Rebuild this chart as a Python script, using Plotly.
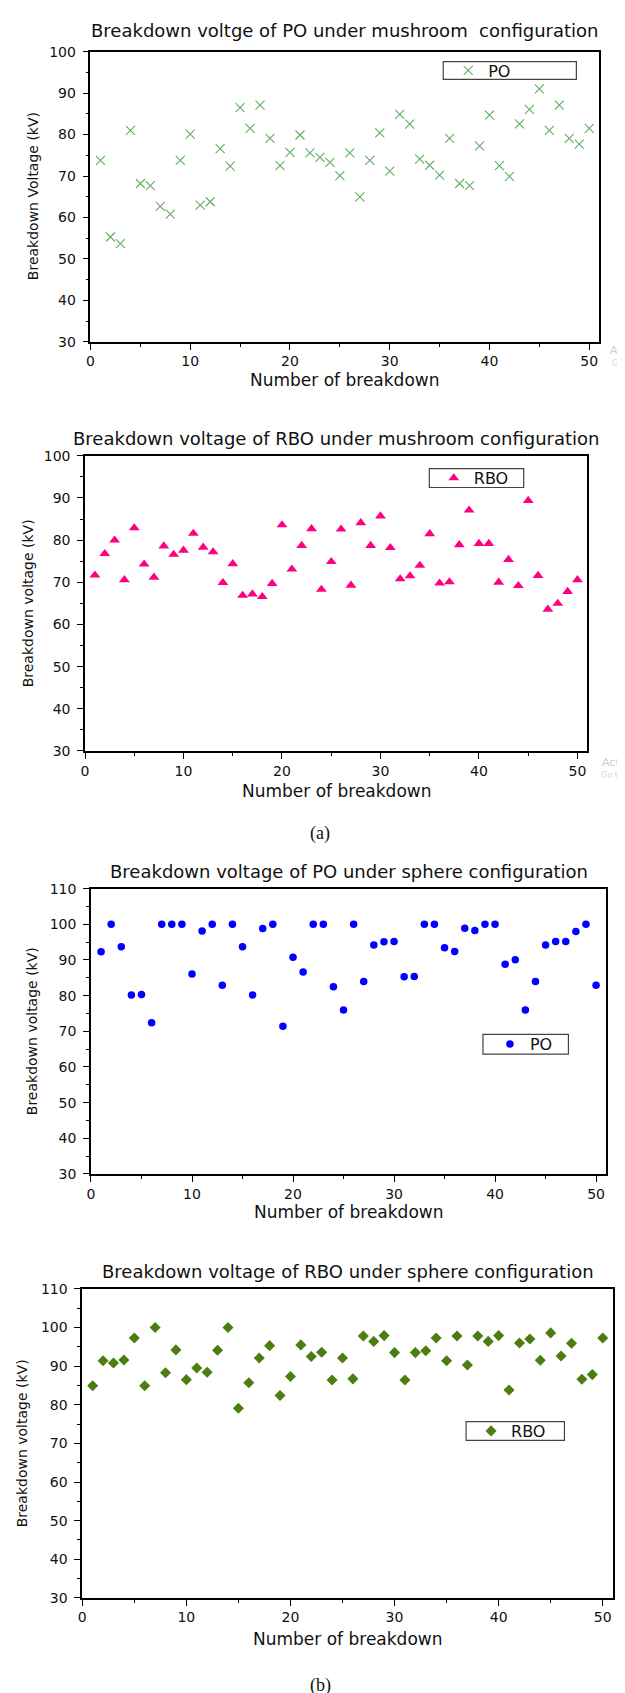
import plotly.graph_objects as go

# ---------------- data ----------------
breakdown_no = list(range(1, 51))

po_mushroom = [73.8, 55.3, 53.7, 81.0, 68.2, 67.7, 62.7, 60.8, 73.8, 80.1,
               63.0, 63.8, 76.6, 72.4, 86.5, 81.5, 87.1, 79.1, 72.5, 75.7,
               79.9, 75.6, 74.5, 73.3, 70.1, 75.6, 65.0, 73.8, 80.4, 71.2,
               84.9, 82.5, 74.1, 72.6, 70.2, 79.1, 68.2, 67.7, 77.3, 84.7,
               72.5, 69.9, 82.6, 86.1, 91.0, 81.0, 87.1, 79.1, 77.7, 81.5]

rbo_mushroom = [71.7, 76.8, 80.0, 70.6, 82.9, 74.3, 71.2, 78.6, 76.6, 77.6,
                81.6, 78.3, 77.2, 69.9, 74.4, 66.9, 67.2, 66.6, 69.7, 83.6,
                73.1, 78.7, 82.7, 68.3, 74.9, 82.6, 69.3, 84.1, 78.7, 85.7,
                78.2, 70.8, 71.5, 74.0, 81.5, 69.8, 70.1, 78.9, 87.1, 79.2,
                79.2, 70.0, 75.4, 69.2, 89.4, 71.6, 63.6, 65.0, 67.8, 70.6]

po_sphere = [92.3, 100.0, 93.7, 80.2, 80.3, 72.4, 100.0, 100.0, 100.0, 86.1,
             98.1, 100.0, 82.9, 100.0, 93.7, 80.2, 98.8, 100.0, 71.4, 90.8,
             86.6, 100.0, 100.0, 82.5, 76.0, 100.0, 84.0, 94.2, 95.1, 95.2,
             85.3, 85.4, 100.0, 100.0, 93.4, 92.4, 98.9, 98.3, 100.0, 100.0,
             88.8, 90.1, 76.0, 84.0, 94.2, 95.2, 95.2, 98.0, 100.0, 82.9]

rbo_sphere = [84.9, 91.4, 90.8, 91.6, 97.3, 84.9, 100.0, 88.3, 94.2, 86.5,
              89.5, 88.4, 94.1, 100.0, 79.1, 85.7, 92.1, 95.3, 82.4, 87.3,
              95.5, 92.5, 93.6, 86.4, 92.1, 86.7, 97.8, 96.4, 97.9, 93.5,
              86.4, 93.5, 94.0, 97.3, 91.4, 97.8, 90.3, 97.8, 96.4, 97.9,
              83.8, 96.0, 97.0, 91.5, 98.6, 92.6, 95.9, 86.6, 87.8, 97.3]

titles = ["Breakdown voltge of PO under mushroom  configuration",
          "Breakdown voltage of RBO under mushroom configuration",
          "Breakdown voltage of PO under sphere configuration",
          "Breakdown voltage of RBO under sphere configuration"]
y_titles = ["Breakdown Voltage (kV)", "Breakdown voltage (kV)",
            "Breakdown voltage (kV)", "Breakdown voltage (kV)"]
x_title = "Number of breakdown"
series_names = ["PO", "RBO", "PO", "RBO"]
y_ranges = [[30, 100], [30, 100], [30, 110], [30, 110]]
x_range = [0, 51]
captions = ["(a)", "(b)"]
# faint screen-capture watermark fragments visible at the right edge
watermarks = [("Ac", "Go"), ("Acti", "Go to"), ("A", "G")]

# ---------------- layout (pixels) ----------------
W, H = 625, 1693
SANS = "DejaVu Sans"

panels = [
    dict(left=79, right=591, top=36, bottom=329, title_xy=(335, 15),
         xlab_xy=(335, 367), ylab_xy=(21, 182),
         box=(434, 568, 46, 64), marker_x=459,
         marker=dict(symbol="x-thin", size=9, color="#62ad62",
                     line=dict(color="#62ad62", width=1.1))),
    dict(left=73.5, right=579, top=444, bottom=742, title_xy=(327, 427),
         xlab_xy=(327, 782), ylab_xy=(16, 593),
         box=(420, 515, 457, 476), marker_x=444.5,
         marker=dict(symbol="triangle-up", size=9.5, color="#ff0080")),
    dict(left=79.5, right=598, top=881, bottom=1169, title_xy=(339, 864),
         xlab_xy=(339, 1207), ylab_xy=(20, 1025),
         box=(474, 560, 1028, 1048), marker_x=501,
         marker=dict(symbol="circle", size=7.5, color="#0000ff")),
    dict(left=70.7, right=605, top=1285, bottom=1597, title_xy=(338, 1267),
         xlab_xy=(338, 1638), ylab_xy=(10, 1441),
         box=(457, 556, 1419, 1438), marker_x=482,
         marker=dict(symbol="diamond", size=8.5, color="#4b7d10")),
]
caption_xy = [(310, 825), (310, 1685)]
watermark_xy = [(617, 338, 351), (617, 754, 767), (619, 1181, 1194)]

series = [po_mushroom, rbo_mushroom, po_sphere, rbo_sphere]

fig = go.Figure()
layout = dict(width=W, height=H, margin=dict(l=0, r=0, t=0, b=0),
              paper_bgcolor="white", plot_bgcolor="white",
              showlegend=True, annotations=[], shapes=[])


def px(x):
    return x / W


def py(y):
    return 1 - y / H


for i, (p, vals) in enumerate(zip(panels, series)):
    n = i + 1
    sx = "" if n == 1 else str(n)
    leg = "legend" if n == 1 else f"legend{n}"
    fig.add_trace(go.Scatter(
        x=breakdown_no, y=vals, mode="markers", name=series_names[i],
        marker=p["marker"], xaxis=f"x{sx}", yaxis=f"y{sx}", legend=leg,
        showlegend=True))

    xd = [px(p["left"]), px(p["right"])]
    yd = [py(p["bottom"]), py(p["top"])]
    axis_common = dict(showline=True, linecolor="black", linewidth=1.5,
                       mirror=True, showgrid=False, zeroline=False,
                       ticks="outside", ticklen=6, tickwidth=1.3,
                       tickcolor="black", dtick=10, tick0=0,
                       tickfont=dict(family=SANS, size=14, color="#111"),
                       minor=dict(ticks="outside", ticklen=3, tickwidth=1.2,
                                  tickcolor="black", dtick=5, showgrid=False))
    layout[f"xaxis{sx}"] = dict(axis_common, domain=xd, range=x_range,
                                anchor=f"y{sx}", fixedrange=True)
    layout[f"yaxis{sx}"] = dict(axis_common, domain=yd, range=y_ranges[i],
                                anchor=f"x{sx}", ticklabelstandoff=4,
                                fixedrange=True)
    # inner tick frame on top and right (Origin style)
    tx = str(n + 4)
    inner = dict(showline=False, showgrid=False, zeroline=False,
                 showticklabels=False, ticks="inside", ticklen=6,
                 tickwidth=1.3, tickcolor="#333", dtick=2, tick0=0,
                 range=[0, 10], fixedrange=True,
                 minor=dict(ticks="inside", ticklen=3, tickwidth=1.2,
                            tickcolor="#333", dtick=1))
    layout[f"xaxis{tx}"] = dict(inner, overlaying=f"x{sx}", side="top",
                                anchor=f"y{sx}")
    layout[f"yaxis{tx}"] = dict(inner, overlaying=f"y{sx}", side="right",
                                anchor=f"x{sx}")

    # titles
    tx0, ty0 = p["title_xy"]
    layout["annotations"].append(dict(
        text=titles[i], x=px(tx0), y=py(ty0), xref="paper", yref="paper",
        showarrow=False, xanchor="center", yanchor="middle",
        font=dict(family=SANS, size=18, color="#111")))
    lx, ly = p["xlab_xy"]
    layout["annotations"].append(dict(
        text=x_title, x=px(lx), y=py(ly), xref="paper", yref="paper",
        showarrow=False, xanchor="center", yanchor="middle",
        font=dict(family=SANS, size=17, color="#111")))
    vx, vy = p["ylab_xy"]
    layout["annotations"].append(dict(
        text=y_titles[i], x=px(vx), y=py(vy), xref="paper", yref="paper",
        showarrow=False, xanchor="center", yanchor="middle", textangle=-90,
        font=dict(family=SANS, size=14, color="#111")))

    # legend
    bl, br, bt, bb = p["box"]
    layout["shapes"].append(dict(
        type="rect", xref="paper", yref="paper", x0=px(bl), x1=px(br),
        y0=py(bb), y1=py(bt), line=dict(color="#444", width=1.2),
        fillcolor="rgba(0,0,0,0)"))
    layout[leg] = dict(x=px(p["marker_x"] - 20), y=py((bt + bb) / 2),
                       xanchor="left", yanchor="middle",
                       bgcolor="rgba(0,0,0,0)", borderwidth=0,
                       font=dict(family=SANS, size=16, color="#111"),
                       itemsizing="trace")

for cap, (cx, cy) in zip(captions, caption_xy):
    layout["annotations"].append(dict(
        text=cap, x=px(cx), y=py(cy), xref="paper", yref="paper",
        showarrow=False, xanchor="center", yanchor="middle",
        font=dict(family="Liberation Serif", size=18, color="#111")))

for (w1, w2), (wx, wy1, wy2) in zip(watermarks, watermark_xy):
    layout["annotations"].append(dict(
        text=w1, x=px(wx), y=py(wy1), xref="paper", yref="paper",
        showarrow=False, xanchor="right", yanchor="middle",
        font=dict(family=SANS, size=11, color="#cfcfcf")))
    layout["annotations"].append(dict(
        text=w2, x=px(wx), y=py(wy2), xref="paper", yref="paper",
        showarrow=False, xanchor="right", yanchor="middle",
        font=dict(family=SANS, size=8, color="#d8d8d8")))

fig.update_layout(**layout)
fig.write_html("out.html")
